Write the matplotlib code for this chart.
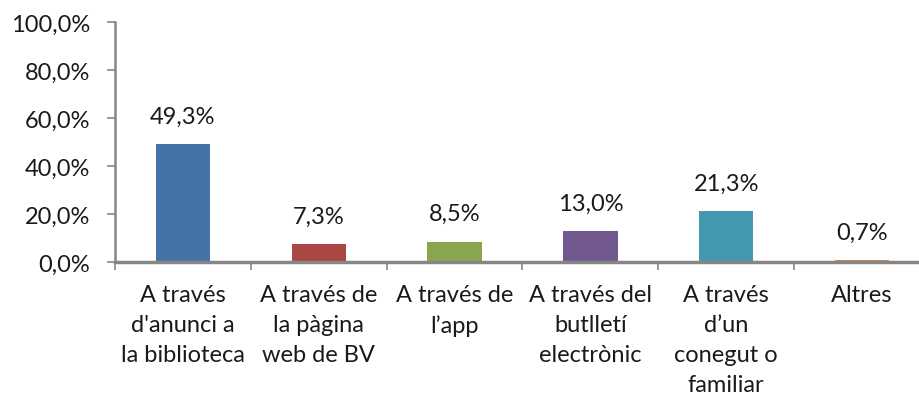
import matplotlib
matplotlib.use('Agg')
import matplotlib.pyplot as plt
import numpy as np

# dades del gràfic
categories = ["A través\nd'anunci a\nla biblioteca",
              "A través de\nla pàgina\nweb de BV",
              "A través de\nl’app",
              "A través del\nbutlletí\nelectrònic",
              "A través\nd’un\nconegut o\nfamiliar",
              "Altres"]
values = [49.3, 7.3, 8.5, 13.0, 21.3, 0.7]
colors = ['#4572A7', '#AA4643', '#89A54E', '#71588F', '#4198AF', '#DB843D']
yticks = [0, 20, 40, 60, 80, 100]

plt.rcParams['font.family'] = ['Lato', 'DejaVu Sans']
fs = 17

fig = plt.figure(figsize=(9.2, 4.06), dpi=100)
ax = fig.add_axes([115 / 920, (406 - 263) / 406, 815 / 920, 240 / 406])

x = np.arange(len(values))
ax.bar(x, values, width=0.4, color=colors, zorder=1)

# etiquetes de dades
for xi, v in zip(x, values):
    ax.annotate(f"{v:.1f}%".replace('.', ','), (xi, v), xytext=(0, 20),
                textcoords='offset points', ha='center', va='center',
                fontsize=fs, color='#1a1a1a')

ax.set_xlim(-0.5, len(values) - 0.5)
ax.set_ylim(0, 100)
ax.set_yticks(yticks)
ax.set_yticklabels([f"{t:.1f}%".replace('.', ',') for t in yticks], fontsize=fs, color='#1a1a1a')

ax.set_xticks(x)
ax.set_xticklabels(categories, fontsize=fs, color='#1a1a1a', linespacing=1.52)
ax.tick_params(axis='x', length=0, pad=16)
ax.set_xticks(np.arange(len(values) + 1) - 0.5, minor=True)
ax.tick_params(axis='x', which='minor', length=6, color='#868686', width=1.2)
ax.tick_params(axis='y', length=6, color='#868686', width=1.2, pad=12)

for s in ['top', 'right']:
    ax.spines[s].set_visible(False)
ax.spines['left'].set_color('#868686')
ax.spines['left'].set_linewidth(1.8)
ax.spines['bottom'].set_color('#868686')
ax.spines['bottom'].set_linewidth(2.5)
ax.spines['bottom'].set_zorder(3)

plt.savefig('out.png', dpi=100)
